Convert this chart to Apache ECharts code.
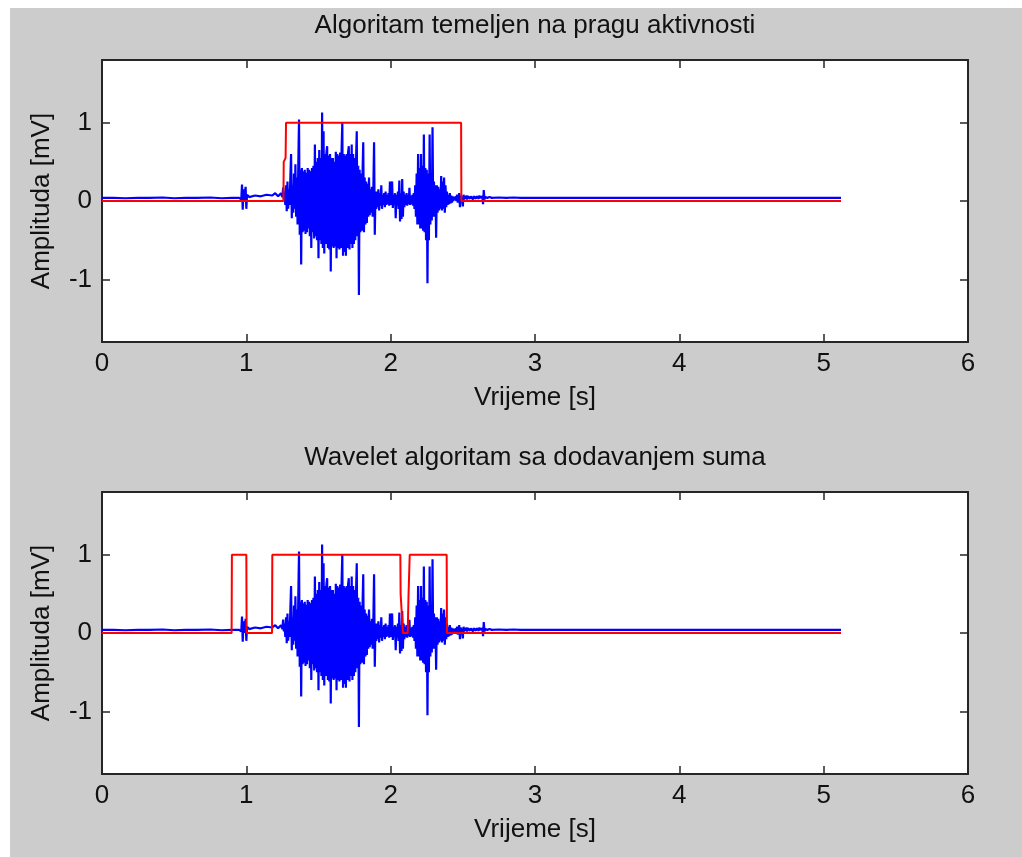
<!DOCTYPE html>
<html>
<head>
<meta charset="utf-8">
<script src="https://cdn.jsdelivr.net/npm/echarts@6/dist/echarts.min.js"></script>
<style>
  html, body { margin: 0; padding: 0; background: #fff; }
  #chart { width: 1022px; height: 857px; }
</style>
</head>
<body>
<div id="chart"></div>
<script>
const titles = ['Algoritam temeljen na pragu aktivnosti', 'Wavelet algoritam sa dodavanjem suma'];
const xName = 'Vrijeme [s]';
const yName = 'Amplituda [mV]';
const yTicks = [-1, 0, 1];

// EMG signal, quiet part before the burst (time s, amplitude mV)
const quietATime = [0, 0.08, 0.16, 0.25, 0.33, 0.42, 0.5, 0.58, 0.66, 0.75, 0.83, 0.9, 0.95, 0.965, 0.97, 0.975, 0.98, 0.985, 0.995, 1.0, 1.005, 1.02, 1.06, 1.1, 1.14, 1.18, 1.2, 1.22, 1.24];
const quietAAmp = [0.04, 0.04, 0.035, 0.04, 0.04, 0.045, 0.035, 0.04, 0.04, 0.045, 0.035, 0.04, 0.04, 0.02, 0.21, -0.11, 0.15, 0.0, 0.18, -0.1, 0.08, 0.05, 0.07, 0.06, 0.08, 0.07, 0.1, 0.06, 0.1];

// burst, one sample every 5 ms starting at 1.25 s
const burstStart = 1.25;
const burstStep = 0.005;
const burstAmp = [
  0.05, 0.17, 0.02, 0.12, -0.05, 0.2, -0.13, 0.25, -0.1, 0.15,
  -0.05, 0.3, 0.6, -0.22, 0.2, -0.15, 0.35, -0.1, 0.47, -0.2,
  0.3, -0.3, 0.45, 1.04, -0.43, 0.4, -0.81, 0.42, -0.4, 0.38,
  -0.38, 0.4, -0.42, 0.36, -0.4, 0.42, -0.35, 0.4, -0.45, 0.38,
  -0.6, 0.42, -0.4, 0.45, -0.48, 0.72, -0.45, 0.5, -0.5, 0.55,
  -0.73, 0.65, -0.5, 0.55, -0.55, 1.13, -0.6, 0.89, -0.67, 0.6,
  -0.55, 0.62, 0.7, -0.6, 0.58, -0.62, 0.6, -0.9, 0.55, -0.58,
  0.55, -0.6, 0.5, -0.58, 0.63, -0.73, 0.6, -0.6, 0.58, -0.62,
  0.62, -0.6, 0.65, 1.0, -0.7, 0.6, -0.65, 0.58, -0.7, 0.6,
  -0.6, 0.62, 0.7, -0.62, 0.6, -0.55, 0.72, -0.6, 0.6, -0.55,
  0.55, -0.5, 0.5, 0.89, -0.45, 0.45, -1.2, 0.4, -0.4, 0.35,
  -0.38, 0.35, 0.75, -0.4, 0.3, -0.3, 0.25, -0.28, 0.22, -0.2,
  0.3, -0.18, 0.15, -0.15, 0.18, -0.2, 0.15, 0.75, -0.43, 0.12,
  -0.1, 0.12, -0.08, 0.15, -0.12, 0.1, -0.06, 0.2, -0.1, 0.08,
  -0.05, 0.1, -0.08, 0.12, -0.05, 0.08, -0.04, 0.1, -0.06, 0.25,
  -0.05, 0.1, 0.25, -0.09, 0.08, -0.05, 0.1, -0.22, 0.08, -0.06,
  0.12, -0.1, 0.26, -0.26, 0.1, -0.23, 0.28, -0.2, 0.12, -0.08,
  0.08, -0.05, 0.1, -0.06, 0.08, -0.04, 0.17, -0.05, 0.06, -0.04,
  0.08, -0.06, 0.1, -0.1, 0.2, -0.2, 0.35, -0.3, 0.6, -0.3,
  0.42, -0.35, 0.6, -0.35, 0.45, -0.38, 0.85, -0.4, 0.42, -0.5,
  0.4, -1.05, 0.35, -0.5, 0.85, -0.3, 0.3, -0.25, 0.94, -0.2,
  0.25, -0.2, 0.2, -0.47, 0.2, -0.15, 0.18, -0.12, 0.15, -0.1,
  0.32, -0.12, 0.25, -0.1, 0.3, -0.15, 0.2, -0.08, 0.12, -0.05,
  0.08, -0.04, 0.1, -0.03, 0.07, -0.02, 0.06, 0.0, 0.05, 0.02,
  0.06, 0.0, 0.08, -0.02, 0.06, 0.1, -0.08, 0.07, 0.0, 0.06,
  -0.07, 0.08, 0.02, 0.06, 0.03, 0.07, 0.02, 0.06, 0.04, 0.07,
  0.03, 0.06, 0.04, 0.08, 0.02, 0.06, 0.04, 0.05, 0.03, 0.06,
  0.04, 0.06, 0.03, 0.07, 0.04, 0.05, 0.03, 0.06, -0.04, 0.14,
  0.02, 0.05, 0.04, 0.06, 0.04, 0.05, 0.03, 0.05, 0.04, 0.04
];

// quiet part after the burst
const quietBTime = [2.7, 2.75, 2.8, 2.85, 2.9, 3.0, 3.1, 3.3, 3.5, 3.6, 3.8, 4.0, 4.5, 5.0, 5.12];
const quietBAmp = [0.04, 0.045, 0.04, 0.045, 0.04, 0.04, 0.04, 0.04, 0.04, 0.04, 0.04, 0.04, 0.04, 0.04, 0.04];

// detection masks
const maskATime = [0, 1.257, 1.259, 1.272, 1.275, 2.488, 2.49, 5.12];
const maskAVal = [0, 0, 0.5, 0.55, 1, 1, 0, 0];
const maskBTime = [0, 0.898, 0.9, 1.0, 1.002, 1.178, 1.18, 2.067, 2.069, 2.085, 2.118, 2.124, 2.132, 2.388, 2.39, 5.12];
const maskBVal = [0, 0, 1, 1, 0, 0, 1, 1, 0.5, 0, 0, 0.5, 1, 1, 0, 0];

const font = '"Liberation Sans", Arial, sans-serif';
const ink = '#111';
const frame = '#262626';

const signal = [];
quietATime.forEach((t, i) => signal.push([t, quietAAmp[i]]));
burstAmp.forEach((v, i) => signal.push([+(burstStart + i * burstStep).toFixed(3), v]));
quietBTime.forEach((t, i) => signal.push([t, quietBAmp[i]]));

const zip = (ts, vs) => ts.map((t, i) => [t, vs[i]]);
const masks = [zip(maskATime, maskAVal), zip(maskBTime, maskBVal)];

const tops = [60, 492];
const grid = tops.map(top => ({
  left: 102, top: top, width: 866, height: 282,
  show: true, backgroundColor: '#fff', borderWidth: 0
}));

const labelStyle = { fontSize: 26, color: ink, fontFamily: font };
const xAxis = [], yAxis = [], series = [];
tops.forEach((top, g) => {
  const common = {
    gridIndex: g, type: 'value', min: 0, max: 6, interval: 1,
    axisLine: { onZero: false, lineStyle: { color: frame, width: 2 } },
    axisTick: { inside: true, length: 8, lineStyle: { color: frame, width: 1.5 } },
    splitLine: { show: false }
  };
  xAxis.push(Object.assign({}, common, {
    position: 'bottom',
    axisLabel: Object.assign({ margin: 9 }, labelStyle),
    name: xName, nameLocation: 'middle', nameGap: 43,
    nameTextStyle: labelStyle
  }));
  xAxis.push(Object.assign({}, common, { position: 'top', axisLabel: { show: false } }));

  const ycommon = {
    gridIndex: g, type: 'value', min: -1.8, max: 1.8,
    axisLine: { onZero: false, lineStyle: { color: frame, width: 2 } },
    axisTick: { inside: true, length: 8, customValues: yTicks, lineStyle: { color: frame, width: 1.5 } },
    splitLine: { show: false }
  };
  yAxis.push(Object.assign({}, ycommon, {
    position: 'left',
    axisLabel: Object.assign({ margin: 10, customValues: yTicks }, labelStyle),
    name: yName, nameLocation: 'middle', nameGap: 47, nameRotate: 90,
    nameTextStyle: labelStyle
  }));
  yAxis.push(Object.assign({}, ycommon, { position: 'right', axisLabel: { show: false } }));

  series.push({
    type: 'line', xAxisIndex: g * 2, yAxisIndex: g * 2, data: signal,
    showSymbol: false, lineStyle: { color: '#0000ff', width: 2.2 }, z: 2
  });
  series.push({
    type: 'line', xAxisIndex: g * 2, yAxisIndex: g * 2, data: masks[g],
    showSymbol: false, lineStyle: { color: '#ff0000', width: 2 }, z: 3
  });
});

const graphic = [
  { type: 'rect', shape: { x: 0, y: 0, width: 1022, height: 8 }, style: { fill: '#fff' } },
  { type: 'rect', shape: { x: 0, y: 0, width: 10, height: 857 }, style: { fill: '#fff' } }
];
titles.forEach((t, g) => graphic.push({
  type: 'text', x: 535, y: tops[g] - 34,
  style: { text: t, font: '26px ' + font, fill: ink, align: 'center', verticalAlign: 'middle' }
}));

const chart = echarts.init(document.getElementById('chart'));
chart.setOption({
  backgroundColor: '#cccccc',
  animation: false,
  grid, xAxis, yAxis, series, graphic
});
</script>
</body>
</html>
